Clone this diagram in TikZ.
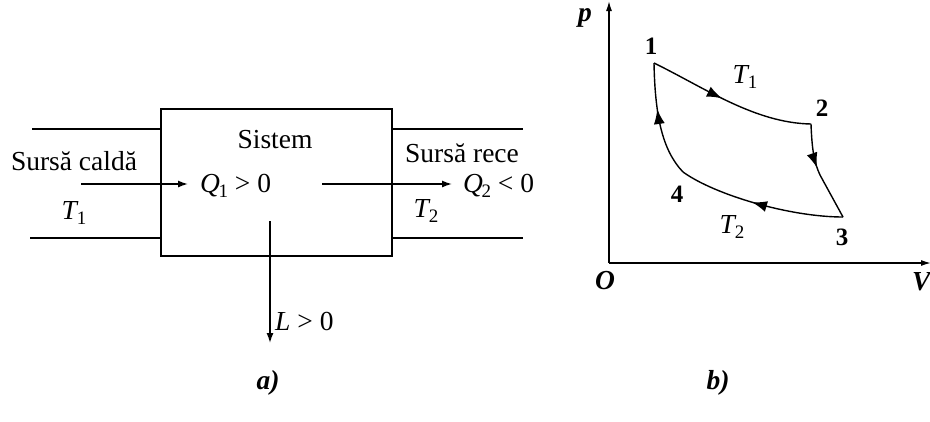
\documentclass[tikz,border=0pt]{standalone}
\usepackage{fontspec}
\setmainfont{Liberation Serif}
\usetikzlibrary{arrows.meta,decorations.markings}
\tikzset{
  lbl/.style={inner sep=0pt, font=\fontsize{27.5}{29}\selectfont},
  bi/.style={inner sep=0pt, font=\fontsize{27.5}{29}\selectfont\bfseries\itshape},
  num/.style={inner sep=0pt, font=\fontsize{25}{27}\selectfont\bfseries},
  wire/.style={line width=1.4pt},
  arr/.style={line width=1.4pt, -{Latex[length=10pt,width=7pt]}},
  cyc/.style={line width=1.4pt},
  mid/.style={postaction={decorate}, decoration={markings, mark=at position #1 with {\arrow{Latex[length=15pt,width=11pt]}}}}
}
\newcommand{\sub}[1]{\kern-1.5pt\raisebox{-5pt}{\fontsize{19}{19}\selectfont #1}}
\begin{document}
\begin{tikzpicture}[x=1pt,y=-1pt]
\useasboundingbox (0,0) rectangle (930,421);
% ---- a) ----
\node[draw, wire, minimum width=231pt, minimum height=147pt, inner sep=0pt] (sys) at (276.5,182.5) {};
\coordinate (l1a) at (32,129); \coordinate (l1b) at (161,129);
\coordinate (l2a) at (30,238); \coordinate (l2b) at (161,238);
\coordinate (r1a) at (392,129); \coordinate (r1b) at (523,129);
\coordinate (r2a) at (392,238); \coordinate (r2b) at (523,238);
\draw[wire] (l1a) -- (l1b) (l2a) -- (l2b) (r1a) -- (r1b) (r2a) -- (r2b);
\node[lbl] (sistem) at (275,140) {Sistem};
\node[lbl] (calda) at (74,161) {Sursă caldă};
\node[lbl] (rece) at (462,153) {Sursă rece};
\node[lbl, anchor=west] (q1) at (200,186) {\textit{Q}\sub{1} > 0};
\node[lbl, anchor=west] (q2) at (463,186) {\textit{Q}\sub{2} < 0};
\node[lbl] (t1) at (74,213) {\textit{T}\sub{1}};
\node[lbl] (t2) at (426,211) {\textit{T}\sub{2}};
\node[lbl, anchor=west] (l) at (275,321) {\textit{L} > 0};
\coordinate (ina) at (81,184);
\coordinate (outa) at (322,184);
\coordinate (la) at (270,221); \coordinate (lb) at (270,343);
\draw[arr] (ina) -- ([xshift=-12pt]q1.west|-ina);
\draw[arr] (outa) -- ([xshift=-11pt]q2.west|-outa);
\draw[arr] (la) -- (lb);
\node[bi] (capa) at (268,383) {a)};
% ---- b) ----
\coordinate (O) at (609,263);
\coordinate (ytop) at (609,1);
\coordinate (xend) at (931,263);
\draw[wire, -{Latex[length=10pt,width=6pt]}] (O) -- (ytop);
\draw[wire, -{Latex[length=10pt,width=6pt]}] (O) -- (xend);
\node[bi] (p) at (585,18) {p};
\node[bi] (o) at (605,281) {O};
\node[bi, anchor=west] (v) at (912,282) {V};
\coordinate (p1) at (654,63);
\coordinate (p2) at (811,124);
\coordinate (p3) at (843,217);
\coordinate (p4) at (683,172);
\draw[cyc, mid=0.45] (p1) .. controls (705,88) and (755,123) .. (p2);
\draw[cyc, mid=0.85] (p2) .. controls (812,150) and (814,162) .. (820,175);
\draw[cyc] (820,175) -- (p3);
\draw[cyc, mid=0.55] (p3) .. controls (790,217) and (715,195) .. (p4);
\draw[cyc, mid=0.6] (p4) .. controls (662,150) and (655,115) .. (p1);
\node[num] (n1) at (651,46) {1};
\node[num] (n2) at (822,108) {2};
\node[num] (n3) at (842,237) {3};
\node[num] (n4) at (677,194) {4};
\node[lbl] (tt1) at (745,77) {\textit{T}\sub{1}};
\node[lbl] (tt2) at (732,227) {\textit{T}\sub{2}};
\node[bi] (capb) at (718,383) {b)};
\end{tikzpicture}
\end{document}
